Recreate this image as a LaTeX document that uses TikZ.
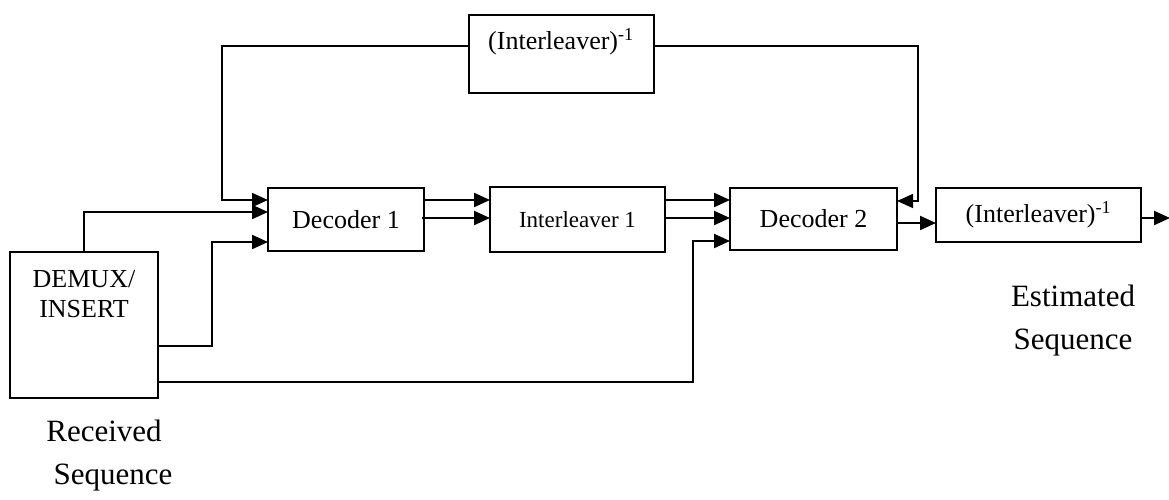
\documentclass[tikz,border=0pt]{standalone}
\usepackage{fontspec}
\setmainfont{Liberation Serif}
\usetikzlibrary{arrows.meta}
\begin{document}
\begin{tikzpicture}[x=1pt,y=-1pt,
  box/.style={draw, line width=2pt, inner sep=0pt},
  thinbox/.style={draw, line width=1.5pt, inner sep=0pt},
  txt/.style={inner sep=0pt, align=center, font=\fontsize{26}{30}\selectfont},
  smalltxt/.style={inner sep=0pt, font=\fontsize{23}{27}\selectfont},
  bigtxt/.style={inner sep=0pt, font=\fontsize{31}{36}\selectfont},
  arr/.style={line width=2.2pt, -{Triangle[length=16pt,width=14pt]}},
  thinarr/.style={line width=1.5pt, -{Triangle[length=16pt,width=14pt]}}]
\useasboundingbox (0,0) rectangle (1169,500);

% blocks
\node[box, minimum width=148pt, minimum height=146pt] (demux) at (84,325) {};
\node[txt] (demuxtxt) at (84,294) {DEMUX/\\INSERT};
\node[box, minimum width=156pt, minimum height=63pt] (dec1) at (346,219.5) {};
\node[txt] at (dec1) {Decoder 1};
\node[box, minimum width=175pt, minimum height=65pt] (int1) at (577.5,219.5) {};
\node[smalltxt] at (int1) {Interleaver 1};
\node[box, minimum width=167pt, minimum height=62pt] (dec2) at (813.5,219) {};
\node[txt] at (dec2) {Decoder 2};
\node[box, minimum width=205pt, minimum height=54pt] (outinv) at (1038.5,215) {};
\node[txt] at (outinv) {(Interleaver)\textsuperscript{-1}};
\node[thinbox, minimum width=185pt, minimum height=78pt] (topinv) at (561.5,54) {};
\node[txt] at (561,42) {(Interleaver)\textsuperscript{-1}};

% ports
\coordinate (d1a) at (268,200);
\coordinate (d1b) at (268,212);
\coordinate (d1c) at (268,242);
\coordinate (d1oa) at (424,200);
\coordinate (d1ob) at (422,218);
\coordinate (i1a) at (490,200);
\coordinate (i1b) at (490,218);
\coordinate (i1oa) at (665,200);
\coordinate (i1ob) at (665,218);
\coordinate (d2a) at (730,200);
\coordinate (d2b) at (730,218);
\coordinate (d2c) at (730,241);
\coordinate (d2r) at (897,201);
\coordinate (d2o) at (897,223);
\coordinate (oi) at (936,223);
\coordinate (oio) at (1141,218);
\coordinate (out) at (1170,218);
\coordinate (dmA) at (158,346);
\coordinate (dmB) at (158,382);
\coordinate (tiL) at (469,46);
\coordinate (tiR) at (654,46);

% connectors
\draw[arr] (demux.north) |- (d1b);
\draw[arr] (dmA) -- ++(54,0) |- (d1c);
\draw[arr] (dmB) -- ++(535,0) |- (d2c);
\draw[thinarr] (tiL) -- ++(-247,0) |- (d1a);
\draw[thinarr] (tiR) -- ++(264,0) |- (d2r);
\draw[arr] (d1oa) -- (i1a);
\draw[arr] (d1ob) -- (i1b);
\draw[arr] (i1oa) -- (d2a);
\draw[arr] (i1ob) -- (d2b);
\draw[arr] (d2o) -- (oi);
\draw[arr] (oio) -- (out);

% captions
\node[bigtxt, anchor=base] (rx1) at (104,441) {Received};
\node[bigtxt, anchor=base] (rx2) at (113,484) {Sequence};
\node[bigtxt, anchor=base] (est1) at (1073,306) {Estimated};
\node[bigtxt, anchor=base] (est2) at (1073,349) {Sequence};
\end{tikzpicture}
\end{document}
